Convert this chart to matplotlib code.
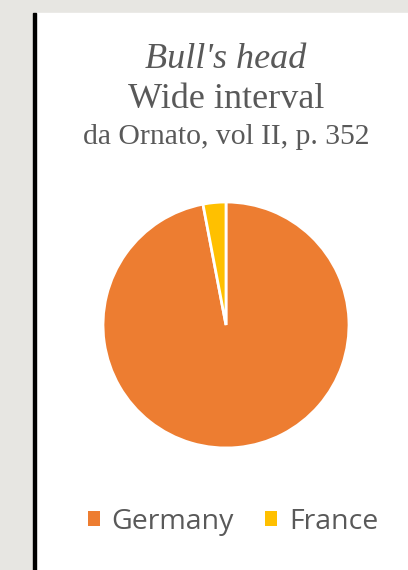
import matplotlib.pyplot as plt
from matplotlib.patches import Rectangle

labels = ['Germany', 'France']
values = [97, 3]
colors = ['#ED7D31', '#FFC000']

W, H = 408, 570
fig = plt.figure(figsize=(W / 100, H / 100), dpi=100)
fig.patch.set_facecolor('#e7e6e2')

# white panel and dark left border
fig.patches.append(Rectangle((36 / W, 0), 1 - 36 / W, 1 - 13 / H,
                             transform=fig.transFigure, color='white', zorder=-2))
fig.patches.append(Rectangle((33 / W, 0), 3 / W, 1 - 13 / H,
                             transform=fig.transFigure, color='black', zorder=-1))

ax = fig.add_axes([103 / W, (H - 448) / H, 246 / W, 246 / H])
ax.set_zorder(2)
wedges, _ = ax.pie(values, colors=colors, startangle=90, counterclock=False,
                   wedgeprops=dict(edgecolor='white', linewidth=2))
ax.set_xlim(-1.0, 1.0)
ax.set_ylim(-1.0, 1.0)

serif = 'Liberation Serif'
grey = '#595959'
fig.text(226 / W, 1 - 59 / H, "Bull's head", ha='center', va='center',
         family=serif, style='italic', fontsize=26, color=grey)
fig.text(226 / W, 1 - 99 / H, 'Wide interval', ha='center', va='center',
         family=serif, fontsize=26, color=grey)
fig.text(226 / W, 1 - 137 / H, 'da Ornato, vol II, p. 352', ha='center', va='center',
         family=serif, fontsize=21.3, color=grey)

leg = fig.legend(wedges, labels, loc='center', bbox_to_anchor=(233 / W, 1 - 522 / H),
                 ncol=2, frameon=False, handlelength=0.42, handleheight=0.42,
                 handletextpad=0.42, columnspacing=1.09,
                 prop=dict(family='Open Sans', size=20.5))
for t in leg.get_texts():
    t.set_color(grey)
for h in leg.legend_handles:
    h.set_edgecolor('none')

fig.savefig('out.png', dpi=100, facecolor=fig.get_facecolor())
